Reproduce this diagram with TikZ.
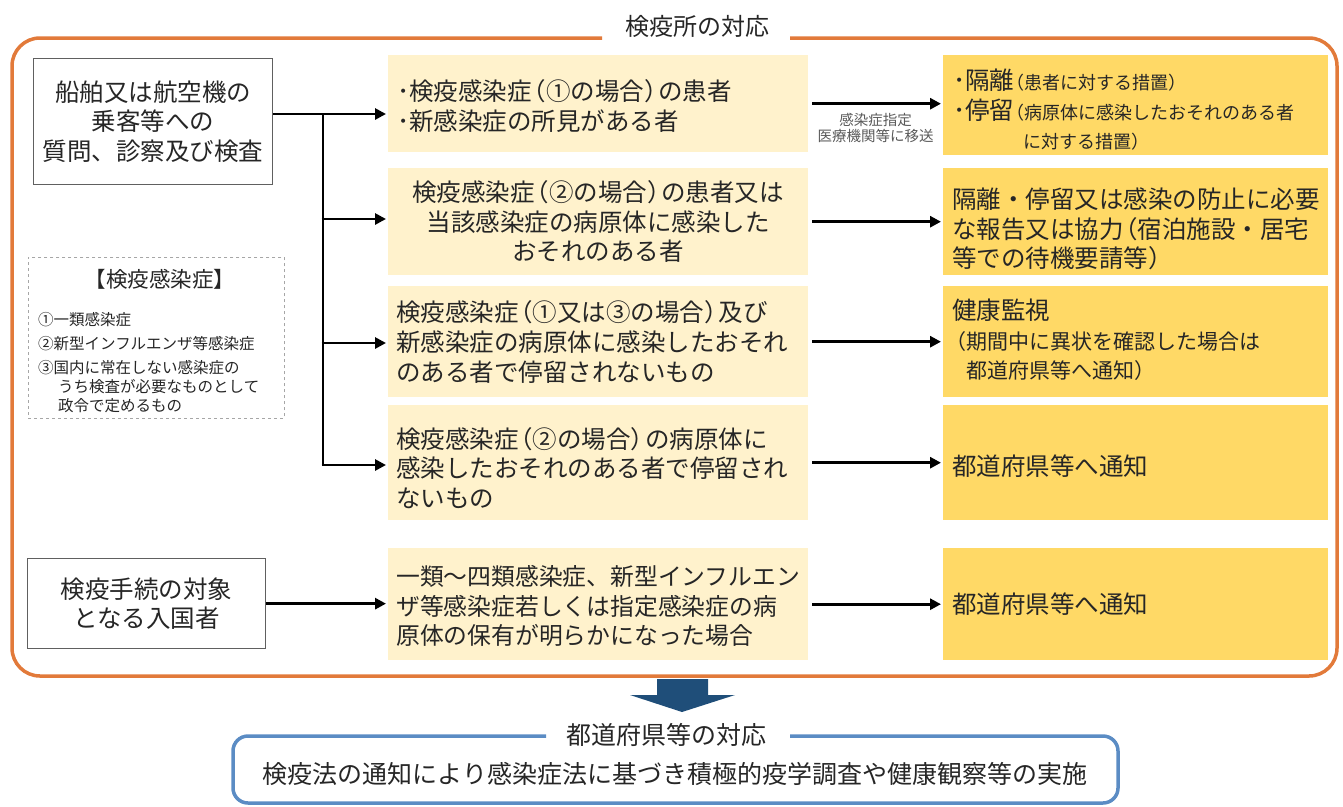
\documentclass[tikz,border=0pt]{standalone}
\usepackage{fontspec}
\setmainfont{Noto Sans CJK JP}
\usetikzlibrary{arrows.meta}
\definecolor{orangeframe}{HTML}{E27A3A}
\definecolor{blueframe}{HTML}{5B8CC4}
\definecolor{bluearrow}{HTML}{1F4E79}
\definecolor{midfill}{HTML}{FFF2CC}
\definecolor{resfill}{HTML}{FFD966}
\definecolor{txt}{HTML}{262626}
\newcommand\fmain{\fontsize{24.5}{29.5}\selectfont}
\newcommand\fsmall{\fontsize{18}{20}\selectfont}
\newcommand\lpar{\kern-0.42em（}
\newcommand\rpar{）\kern-0.42em}
\begin{document}
\begin{tikzpicture}[x=1pt,y=-1pt,
  every node/.style={text=txt},
  gbox/.style={draw=gray!75!black, line width=1.3pt, fill=white, anchor=north west, align=center, font=\fmain, inner sep=0pt},
  mbox/.style={fill=midfill, draw=none, anchor=north west, minimum width=420pt, inner sep=0pt},
  rbox/.style={fill=resfill, draw=none, anchor=north west, minimum width=385pt, inner sep=0pt},
  btext/.style={anchor=west, align=left, font=\fmain, inner sep=0pt},
  conn/.style={line width=2.8pt, -{Triangle[length=11pt,width=11pt]}, shorten >=2pt},
  trunk/.style={line width=2.8pt}
]
\useasboundingbox (0,0) rectangle (1343,806);

% orange frame with title gap
\draw[orangeframe, line width=3.5pt, rounded corners=28pt]
  (602,38) -- (12,38) -- (12,676) -- (1337,676) -- (1337,38) -- (790,38);
\node[font=\fontsize{24}{28}\selectfont] (ttl1) at (697,26) {検疫所の対応};

% left boxes
\node[gbox, minimum width=239pt, minimum height=126pt] (src1) at (33,58)
  {船舶又は航空機の\\乗客等への\\質問、診察及び検査};
\node[gbox, minimum width=238pt, minimum height=90pt] (src2) at (27,558)
  {検疫手続の対象\\となる入国者};

% dashed legend box
\node[draw=gray!70, dashed, line width=0.9pt, anchor=north west, minimum width=256pt, minimum height=161pt, inner sep=0pt] (legend) at (28,257) {};
\node[font=\fontsize{21.5}{24}\selectfont] (legt) at (160,279) {【検疫感染症】};
\node[anchor=north west, align=left, inner sep=0pt, font=\fontsize{15.5}{19}\selectfont] (legl) at (38,312)
  {①一類感染症\\[5pt]②新型インフルエンザ等感染症\\[5pt]③国内に常在しない感染症の\\\hspace*{20pt}うち検査が必要なものとして\\\hspace*{20pt}政令で定めるもの};

% middle boxes
\node[mbox, minimum height=97pt] (m1) at (388,55) {};
\node[btext] (m1t) at (397,106) {･検疫感染症\lpar ①の場合\rpar の患者\\･新感染症の所見がある者};
\node[mbox, minimum height=107pt, align=center, font=\fmain] (m2) at (388,168)
  {検疫感染症\lpar ②の場合\rpar の患者又は\\当該感染症の病原体に感染した\\おそれのある者};
\node[mbox, minimum height=111pt] (m3) at (388,286) {};
\node[btext] (m3t) at (396,342) {検疫感染症\lpar ①又は③の場合\rpar 及び\\新感染症の病原体に感染したおそれ\\のある者で停留されないもの};
\node[mbox, minimum height=115pt] (m4) at (388,405) {};
\node[btext] (m4t) at (396,468) {検疫感染症\lpar ②の場合\rpar の病原体に\\感染したおそれのある者で停留され\\ないもの};
\node[mbox, minimum height=112pt] (m5) at (388,548) {};
\node[btext, font=\fontsize{23.8}{29.5}\selectfont] (m5t) at (396,606) {一類～四類感染症、新型インフルエン\\ザ等感染症若しくは指定感染症の病\\原体の保有が明らかになった場合};

% right boxes
\node[rbox, minimum height=100pt] (r1) at (943,55) {};
\node[btext] (r1t) at (953,110) {･隔離{\fsmall\lpar 患者に対する措置\rpar}\\･停留{\fsmall\lpar 病原体に感染したおそれのある者}\\\hspace*{70pt}{\fsmall に対する措置\rpar}};
\node[rbox, minimum height=107pt] (r2) at (943,168) {};
\node[btext] (r2t) at (952,229) {隔離・停留又は感染の防止に必要\\な報告又は協力\lpar 宿泊施設・居宅\\等での待機要請等\rpar};
\node[rbox, minimum height=111pt] (r3) at (943,286) {};
\node[btext] (r3t) at (952,340) {健康監視\\{\fontsize{21}{26}\selectfont\kern-0.3em（期間中に異状を確認した場合は}\\{\fontsize{21}{26}\selectfont\hspace*{14pt}都道府県等へ通知\rpar}};
\node[rbox, minimum height=115pt] (r4) at (943,405) {};
\node[btext] (r4t) at (952,466) {都道府県等へ通知};
\node[rbox, minimum height=112pt] (r5) at (943,548) {};
\node[btext] (r5t) at (952,604) {都道府県等へ通知};

% trunk and branches
\coordinate (j0) at (323,114);
\coordinate (j1) at (323,219);
\coordinate (j2) at (323,343);
\coordinate (j3) at (323,465);
\draw[conn] (src1.east |- j0) -- (m1.west |- j0);
\draw[trunk] ([yshift=-1.4pt]j0) -- (j3);
\draw[conn] ([xshift=-1.4pt]j1) -- (m2.west |- j1);
\draw[conn] ([xshift=-1.4pt]j2) -- (m3.west |- j2);
\draw[conn] ([xshift=-1.4pt]j3) -- (m4.west |- j3);
\draw[conn] (src2.east) -- (m5.west |- src2.east);

% middle to right
\draw[conn, shorten <=4pt] (m1.east) -- node[below=5pt, align=center, text=gray!70!black, font=\fontsize{14.5}{16}\selectfont] (lbl) {感染症指定\\医療機関等に移送} (r1.west |- m1.east);
\draw[conn, shorten <=4pt] (m2.east) -- (r2.west |- m2.east);
\draw[conn, shorten <=4pt] (m3.east) -- (r3.west |- m3.east);
\draw[conn, shorten <=4pt] (m4.east) -- (r4.west |- m4.east);
\draw[conn, shorten <=4pt] (m5.east) -- (r5.west |- m5.east);

% blue block arrow
\fill[bluearrow] (657,679) -- (708,679) -- (708,695) -- (735,695) -- (682,712) -- (630,695) -- (657,695) -- cycle;

% blue frame
\draw[blueframe, line width=3.5pt, rounded corners=15pt]
  (546,736) -- (233,736) -- (233,803) -- (1118,803) -- (1118,736) -- (790,736);
\node[font=\fontsize{25}{28}\selectfont] (ttl2) at (666,735) {都道府県等の対応};
\node[font=\fontsize{25}{29}\selectfont] (bottom) at (675,774) {検疫法の通知により感染症法に基づき積極的疫学調査や健康観察等の実施};
\end{tikzpicture}
\end{document}
